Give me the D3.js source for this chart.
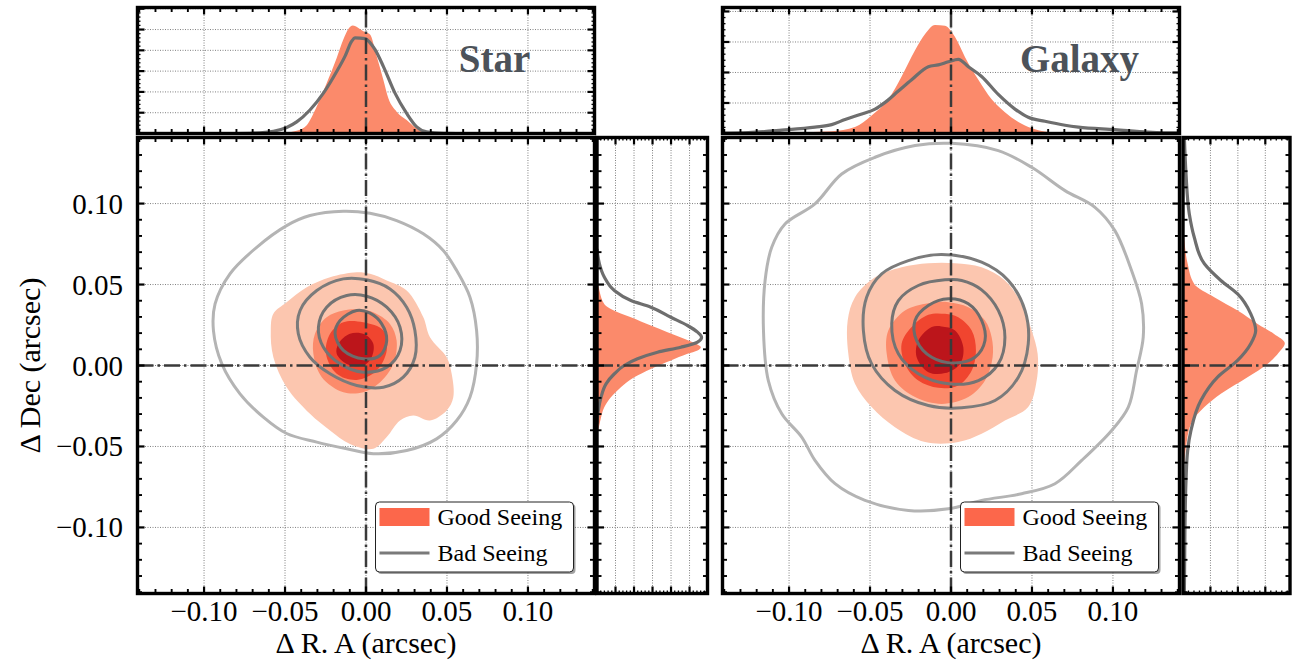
<!DOCTYPE html>
<html><head><meta charset="utf-8">
<script src="https://cdn.jsdelivr.net/npm/d3@7"></script>
<style>body{margin:0;background:#fff}svg{display:block}</style>
</head><body>
<svg id="c" width="1302" height="665"></svg>
<script>
// ================= DATA =================
const panelTitles = ["Star", "Galaxy"];
const seriesNames = ["Good Seeing", "Bad Seeing"];
const raTicks = [-0.10, -0.05, 0.00, 0.05, 0.10];
const decTicks = [-0.10, -0.05, 0.00, 0.05, 0.10];
const tickLabels = ["\u22120.10", "\u22120.05", "0.00", "0.05", "0.10"];
const xAxisLabel = "\u0394 R. A (arcsec)";
const yAxisLabel = "\u0394 Dec (arcsec)";

// Filled KDE contour outlines (Good Seeing), outer -> inner, [dRA, dDec]
const starGoodContours = [
  [[-0.0057,0.0576],[-0.0222,0.0545],[-0.0366,0.0483],[-0.0490,0.0390],[-0.0572,0.0319],[-0.0588,0.0216],[-0.0572,0.0051],[-0.0490,-0.0134],[-0.0346,-0.0298],[-0.0222,-0.0401],[-0.0099,-0.0484],[0.0045,-0.0514],[0.0128,-0.0442],[0.0210,-0.0340],[0.0292,-0.0309],[0.0395,-0.0340],[0.0498,-0.0278],[0.0539,-0.0196],[0.0529,-0.0051],[0.0498,0.0051],[0.0395,0.0175],[0.0354,0.0298],[0.0251,0.0463],[0.0128,0.0525],[0.0025,0.0566]],
  [[-0.0140,0.0340],[-0.0243,0.0298],[-0.0315,0.0196],[-0.0325,0.0072],[-0.0273,-0.0072],[-0.0140,-0.0165],[-0.0017,-0.0165],[0.0076,-0.0113],[0.0169,0.0010],[0.0189,0.0154],[0.0148,0.0257],[0.0045,0.0329],[-0.0037,0.0346]],
  [[-0.0140,0.0267],[-0.0222,0.0196],[-0.0247,0.0072],[-0.0181,-0.0051],[-0.0057,-0.0089],[0.0066,-0.0031],[0.0128,0.0093],[0.0107,0.0216],[-0.0017,0.0267]],
  [[-0.0099,0.0196],[-0.0170,0.0134],[-0.0181,0.0072],[-0.0119,0.0010],[-0.0017,0.0000],[0.0035,0.0051],[0.0045,0.0134],[-0.0006,0.0191]]
];
// Line KDE contours (Bad Seeing), outer -> inner
const starBadContours = [
  [[-0.0140,0.0953],[-0.0346,0.0926],[-0.0490,0.0864],[-0.0675,0.0730],[-0.0840,0.0566],[-0.0932,0.0380],[-0.0942,0.0216],[-0.0890,0.0010],[-0.0778,-0.0175],[-0.0634,-0.0319],[-0.0490,-0.0420],[-0.0304,-0.0473],[-0.0119,-0.0514],[0.0045,-0.0545],[0.0251,-0.0525],[0.0436,-0.0453],[0.0560,-0.0340],[0.0642,-0.0196],[0.0683,0.0010],[0.0683,0.0216],[0.0642,0.0422],[0.0560,0.0586],[0.0477,0.0710],[0.0354,0.0813],[0.0189,0.0895],[0.0025,0.0940]],
  [[-0.0140,0.0535],[-0.0304,0.0463],[-0.0407,0.0340],[-0.0418,0.0196],[-0.0346,0.0051],[-0.0222,-0.0051],[-0.0057,-0.0123],[0.0107,-0.0134],[0.0230,-0.0072],[0.0302,0.0051],[0.0302,0.0216],[0.0251,0.0360],[0.0148,0.0473],[0.0004,0.0529]],
  [[-0.0119,0.0432],[-0.0243,0.0360],[-0.0294,0.0236],[-0.0263,0.0113],[-0.0160,0.0010],[-0.0017,-0.0041],[0.0128,-0.0010],[0.0210,0.0093],[0.0210,0.0236],[0.0128,0.0360],[0.0004,0.0428]],
  [[-0.0057,0.0340],[-0.0160,0.0278],[-0.0191,0.0196],[-0.0140,0.0093],[-0.0017,0.0041],[0.0086,0.0062],[0.0128,0.0154],[0.0097,0.0257],[0.0025,0.0323]]
];
const galaxyGoodContours = [
  [[-0.0140,0.0632],[-0.0305,0.0607],[-0.0469,0.0545],[-0.0593,0.0422],[-0.0638,0.0278],[-0.0634,0.0072],[-0.0593,-0.0113],[-0.0490,-0.0257],[-0.0346,-0.0381],[-0.0160,-0.0473],[0.0045,-0.0473],[0.0189,-0.0422],[0.0333,-0.0340],[0.0477,-0.0257],[0.0529,-0.0093],[0.0535,0.0072],[0.0498,0.0216],[0.0436,0.0381],[0.0333,0.0525],[0.0189,0.0607],[0.0025,0.0632]],
  [[-0.0140,0.0385],[-0.0284,0.0340],[-0.0387,0.0216],[-0.0397,0.0072],[-0.0346,-0.0093],[-0.0222,-0.0195],[-0.0058,-0.0237],[0.0107,-0.0195],[0.0210,-0.0093],[0.0257,0.0051],[0.0251,0.0175],[0.0210,0.0278],[0.0107,0.0360],[-0.0016,0.0391]],
  [[-0.0140,0.0313],[-0.0243,0.0237],[-0.0305,0.0134],[-0.0284,0.0010],[-0.0202,-0.0093],[-0.0078,-0.0138],[0.0045,-0.0123],[0.0128,-0.0031],[0.0154,0.0093],[0.0128,0.0216],[0.0045,0.0298],[-0.0037,0.0319]],
  [[-0.0119,0.0237],[-0.0202,0.0154],[-0.0212,0.0051],[-0.0140,-0.0041],[-0.0037,-0.0047],[0.0056,0.0010],[0.0076,0.0113],[0.0025,0.0216],[-0.0058,0.0241]]
];
const galaxyBadContours = [
  [[0.0004,0.1372],[-0.0222,0.1358],[-0.0469,0.1286],[-0.0675,0.1183],[-0.0840,0.0998],[-0.1025,0.0874],[-0.1107,0.0730],[-0.1148,0.0525],[-0.1158,0.0216],[-0.1128,-0.0093],[-0.1045,-0.0298],[-0.0922,-0.0442],[-0.0840,-0.0586],[-0.0716,-0.0730],[-0.0531,-0.0833],[-0.0263,-0.0895],[-0.0016,-0.0885],[0.0189,-0.0833],[0.0436,-0.0792],[0.0642,-0.0730],[0.0807,-0.0586],[0.0992,-0.0401],[0.1095,-0.0257],[0.1146,-0.0031],[0.1187,0.0175],[0.1177,0.0381],[0.1115,0.0586],[0.1012,0.0833],[0.0889,0.0977],[0.0704,0.1080],[0.0498,0.1224],[0.0292,0.1327]],
  [[-0.0058,0.0685],[-0.0263,0.0648],[-0.0428,0.0566],[-0.0521,0.0422],[-0.0541,0.0216],[-0.0490,0.0010],[-0.0346,-0.0154],[-0.0140,-0.0247],[0.0066,-0.0261],[0.0272,-0.0216],[0.0416,-0.0072],[0.0477,0.0134],[0.0457,0.0340],[0.0354,0.0525],[0.0189,0.0638]],
  [[-0.0037,0.0529],[-0.0202,0.0494],[-0.0325,0.0401],[-0.0366,0.0257],[-0.0325,0.0072],[-0.0202,-0.0051],[-0.0016,-0.0113],[0.0169,-0.0093],[0.0292,0.0010],[0.0333,0.0175],[0.0292,0.0340],[0.0189,0.0467],[0.0066,0.0525]],
  [[-0.0016,0.0412],[-0.0140,0.0370],[-0.0222,0.0278],[-0.0212,0.0154],[-0.0119,0.0051],[0.0025,0.0016],[0.0148,0.0051],[0.0210,0.0154],[0.0189,0.0278],[0.0107,0.0381]]
];

// Marginal KDEs along R.A.: [dRA, density (grid units)]
const starGoodRA = [[-0.0600,0],[-0.0510,0.03],[-0.0428,0.13],[-0.0366,0.40],[-0.0305,1.29],[-0.0243,2.42],[-0.0181,3.63],[-0.0140,4.52],[-0.0109,5.03],[-0.0082,5.19],[-0.0047,5.08],[-0.0016,4.92],[0.0025,4.76],[0.0066,3.71],[0.0107,2.58],[0.0138,1.69],[0.0189,1.05],[0.0251,0.65],[0.0313,0.24],[0.0364,0.03],[0.0450,0]];
const starBadRA = [[-0.0800,0],[-0.0695,0.02],[-0.0572,0.11],[-0.0490,0.29],[-0.0428,0.56],[-0.0346,1.13],[-0.0263,1.94],[-0.0181,2.98],[-0.0130,3.71],[-0.0088,4.44],[-0.0068,4.60],[-0.0006,4.56],[0.0035,4.27],[0.0056,4.03],[0.0107,3.23],[0.0179,1.94],[0.0251,0.97],[0.0313,0.32],[0.0374,0.08],[0.0477,0.01],[0.0600,0]];
const galaxyGoodRA = [[-0.1200,0],[-0.1045,0.02],[-0.0737,0.07],[-0.0593,0.21],[-0.0490,0.59],[-0.0387,1.12],[-0.0305,1.87],[-0.0222,2.73],[-0.0160,3.26],[-0.0099,3.56],[-0.0037,3.53],[0.0025,3.16],[0.0086,2.51],[0.0169,1.76],[0.0251,1.12],[0.0333,0.70],[0.0436,0.32],[0.0519,0.14],[0.0601,0.05],[0.0807,0.01],[0.1000,0]];
const galaxyBadRA = [[-0.1411,0.01],[-0.1251,0.03],[-0.1045,0.11],[-0.0840,0.21],[-0.0737,0.29],[-0.0654,0.46],[-0.0551,0.64],[-0.0469,0.80],[-0.0407,1.02],[-0.0325,1.39],[-0.0243,1.76],[-0.0140,2.19],[-0.0078,2.25],[-0.0016,2.35],[0.0045,2.43],[0.0107,2.19],[0.0189,1.87],[0.0292,1.28],[0.0395,0.80],[0.0477,0.53],[0.0580,0.40],[0.0704,0.27],[0.0786,0.21],[0.1012,0.13],[0.1218,0.05],[0.1383,0.02],[0.1411,0.02]];

// Marginal KDEs along Dec: [dDec, density (grid units)]
const starGoodDec = [[0.0560,0],[0.0463,0.13],[0.0379,0.40],[0.0329,1.12],[0.0298,1.83],[0.0247,2.91],[0.0206,3.81],[0.0165,4.71],[0.0134,5.34],[0.0113,5.61],[0.0093,5.43],[0.0072,4.89],[0.0031,3.99],[-0.0021,2.91],[-0.0072,2.01],[-0.0134,1.29],[-0.0195,0.76],[-0.0257,0.40],[-0.0340,0.18],[-0.0440,0]];
const starBadDec = [[0.0720,0],[0.0628,0.13],[0.0545,0.40],[0.0463,0.94],[0.0401,1.83],[0.0360,2.91],[0.0298,3.99],[0.0247,4.89],[0.0206,5.43],[0.0175,5.65],[0.0144,5.43],[0.0113,4.53],[0.0082,3.27],[0.0041,2.19],[0.0000,1.47],[-0.0051,0.94],[-0.0113,0.49],[-0.0195,0.22],[-0.0278,0.07],[-0.0360,0]];
const galaxyGoodDec = [[0.0900,0],[0.0772,0.05],[0.0628,0.17],[0.0504,0.41],[0.0422,1.14],[0.0340,1.99],[0.0257,2.72],[0.0195,3.32],[0.0138,3.71],[0.0082,3.50],[0.0010,3.08],[-0.0072,2.35],[-0.0175,1.38],[-0.0257,0.78],[-0.0360,0.29],[-0.0504,0.11],[-0.0586,0.05],[-0.0700,0]];
const galaxyBadDec = [[0.1408,0.05],[0.1183,0.11],[0.0936,0.23],[0.0792,0.41],[0.0628,0.78],[0.0525,1.38],[0.0442,1.99],[0.0319,2.47],[0.0216,2.65],[0.0134,2.47],[0.0031,1.99],[-0.0072,1.26],[-0.0216,0.65],[-0.0401,0.29],[-0.0525,0.17],[-0.0710,0.11],[-0.1019,0.07],[-0.1408,0.05]];

// ================= STYLE / LAYOUT =================
const goodFills = ["#fcc6af", "#fc8b6b", "#f0452f", "#bc151b"];
const badStrokes = ["#b4b4b4", "#7b7b7b", "#747474", "#6c6c6c"];
const margFill = "#fb8a6b";
const margLine = "#6e6e6e";
const legendPatch = "#fc674b";
const legendLine = "#7a7a7a";
const zeroStroke = "#3a3a3a";
const gridStroke = "#808080";
const serif = "'Liberation Serif','DejaVu Serif',serif";
const XH = 0.1411, YH = 0.1408;

const panels = [
  {title: panelTitles[0], good: starGoodContours, bad: starBadContours,
   goodRA: starGoodRA, badRA: starBadRA, goodDec: starGoodDec, badDec: starBadDec,
   L: 137.5, R: 594.5, T: 137.5, B: 593.5,
   tm: {T: 7.5, B: 133.5, max: 6.06}, rm: {L: 597, R: 707.5, max: 5.97}, yLabels: true},
  {title: panelTitles[1], good: galaxyGoodContours, bad: galaxyBadContours,
   goodRA: galaxyGoodRA, badRA: galaxyBadRA, goodDec: galaxyGoodDec, badDec: galaxyBadDec,
   L: 722.5, R: 1179.5, T: 137.5, B: 593.5,
   tm: {T: 7.5, B: 133.5, max: 4.13}, rm: {L: 1183, R: 1290, max: 3.9}, yLabels: false}
];

const svg = d3.select("#c");
const defs = svg.append("defs");
const minorVals = d3.range(-14, 15).map(i => ({v: i / 100, major: i % 5 === 0}));

function densTicks(max) {
  return d3.range(0, Math.floor(max * 5 + 1e-6) + 1).map(i => ({v: i / 5, major: i % 5 === 0}));
}

function drawTicks(g, vals, scale, side, x0, x1, y0, y1, small) {
  vals.forEach(t => {
    const len = t.major ? 7 : (small ? 3 : 4.5);
    const w = t.major ? 2.2 : (small ? 1.3 : 1.9);
    if (side === 'h') {
      const x = scale(t.v);
      if (x < x0 + 1 || x > x1 - 1) return;
      g.append("line").attr("x1", x).attr("x2", x).attr("y1", y0).attr("y2", y0 + len).attr("stroke", "#000").attr("stroke-width", w);
      g.append("line").attr("x1", x).attr("x2", x).attr("y1", y1).attr("y2", y1 - len).attr("stroke", "#000").attr("stroke-width", w);
    } else {
      const y = scale(t.v);
      if (y < y0 + 1 || y > y1 - 1) return;
      g.append("line").attr("y1", y).attr("y2", y).attr("x1", x0).attr("x2", x0 + len).attr("stroke", "#000").attr("stroke-width", w);
      g.append("line").attr("y1", y).attr("y2", y).attr("x1", x1).attr("x2", x1 - len).attr("stroke", "#000").attr("stroke-width", w);
    }
  });
}

function clip(id, x0, y0, x1, y1) {
  defs.append("clipPath").attr("id", id).append("rect").attr("x", x0).attr("y", y0).attr("width", x1 - x0).attr("height", y1 - y0);
  return "url(#" + id + ")";
}

function frame(g, x0, y0, x1, y1) {
  g.append("rect").attr("x", x0).attr("y", y0).attr("width", x1 - x0).attr("height", y1 - y0)
    .attr("fill", "none").attr("stroke", "#000").attr("stroke-width", 3.4);
}

function hGrid(g, vals, sy, x0, x1) {
  vals.forEach(v => g.append("line").attr("x1", x0).attr("x2", x1).attr("y1", sy(v)).attr("y2", sy(v))
    .attr("stroke", gridStroke).attr("stroke-width", 1).attr("stroke-dasharray", "1,1.5"));
}
function vGrid(g, vals, sx, y0, y1) {
  vals.forEach(v => g.append("line").attr("y1", y0).attr("y2", y1).attr("x1", sx(v)).attr("x2", sx(v))
    .attr("stroke", gridStroke).attr("stroke-width", 1).attr("stroke-dasharray", "1,1.5"));
}

function zeroLine(g, x1, y1, x2, y2) {
  g.append("line").attr("x1", x1).attr("y1", y1).attr("x2", x2).attr("y2", y2)
    .attr("stroke", zeroStroke).attr("stroke-width", 2.5).attr("stroke-dasharray", "16,4,2.5,4");
}

panels.forEach((p, pi) => {
  const x = d3.scaleLinear().domain([-XH, XH]).range([p.L, p.R]);
  const y = d3.scaleLinear().domain([-YH, YH]).range([p.B, p.T]);
  const g = svg.append("g");

  // ---------- main joint axes ----------
  const main = g.append("g").attr("clip-path", clip("cm" + pi, p.L, p.T, p.R, p.B));
  vGrid(main, raTicks, x, p.T, p.B);
  hGrid(main, decTicks, y, p.L, p.R);
  const shape = d3.line().x(d => x(d[0])).y(d => y(d[1])).curve(d3.curveCatmullRomClosed.alpha(0.5));
  p.good.forEach((c, i) => main.append("path").attr("d", shape(c)).attr("fill", goodFills[i]));
  p.bad.forEach((c, i) => main.append("path").attr("d", shape(c)).attr("fill", "none")
    .attr("stroke", badStrokes[i]).attr("stroke-width", 3));
  zeroLine(main, x(0), p.B, x(0), p.T);
  zeroLine(main, p.L, y(0), p.R, y(0));
  drawTicks(g, minorVals, x, 'h', p.L, p.R, p.T, p.B);
  drawTicks(g, minorVals, y, 'v', p.L, p.R, p.T, p.B);
  frame(g, p.L, p.T, p.R, p.B);

  // tick labels
  raTicks.forEach((v, i) => g.append("text").attr("x", x(v)).attr("y", 621).attr("text-anchor", "middle")
    .attr("font-family", serif).attr("font-size", 29).text(tickLabels[i]));
  if (p.yLabels) {
    decTicks.forEach((v, i) => g.append("text").attr("x", 123).attr("y", y(v) + 10).attr("text-anchor", "end")
      .attr("font-family", serif).attr("font-size", 29).text(tickLabels[i]));
    g.append("text").attr("transform", `translate(40,${y(0)}) rotate(-90)`).attr("text-anchor", "middle")
      .attr("font-family", serif).attr("font-size", 30).text(yAxisLabel);
  }
  g.append("text").attr("x", x(0)).attr("y", 653).attr("text-anchor", "middle")
    .attr("font-family", serif).attr("font-size", 30).text(xAxisLabel);

  // ---------- top marginal ----------
  const ty = d3.scaleLinear().domain([0, p.tm.max]).range([p.tm.B, p.tm.T]);
  const top = g.append("g").attr("clip-path", clip("ct" + pi, p.L, p.tm.T, p.R, p.tm.B));
  vGrid(top, raTicks, x, p.tm.T, p.tm.B);
  hGrid(top, d3.range(1, Math.floor(p.tm.max) + 1), ty, p.L, p.R);
  top.append("path").attr("d", d3.area().x(d => x(d[0])).y0(ty(0)).y1(d => ty(d[1])).curve(d3.curveMonotoneX)(p.goodRA))
    .attr("fill", margFill);
  top.append("path").attr("d", d3.line().x(d => x(d[0])).y(d => ty(d[1])).curve(d3.curveMonotoneX)(p.badRA))
    .attr("fill", "none").attr("stroke", margLine).attr("stroke-width", 3.2);
  zeroLine(top, x(0), p.tm.B, x(0), p.tm.T);
  drawTicks(g, minorVals, x, 'h', p.L, p.R, p.tm.T, p.tm.B);
  drawTicks(g, densTicks(p.tm.max), ty, 'v', p.L, p.R, p.tm.T, p.tm.B, true);
  frame(g, p.L, p.tm.T, p.R, p.tm.B);
  g.append("text").attr("x", p.L + 357).attr("y", 72).attr("text-anchor", "middle")
    .attr("font-family", serif).attr("font-weight", "bold").attr("font-size", 39).attr("fill", "#4c5259").text(p.title);

  // ---------- right marginal ----------
  const rx = d3.scaleLinear().domain([0, p.rm.max]).range([p.rm.L, p.rm.R]);
  const rg = g.append("g").attr("clip-path", clip("cr" + pi, p.rm.L, p.T, p.rm.R, p.B));
  hGrid(rg, decTicks, y, p.rm.L, p.rm.R);
  vGrid(rg, d3.range(1, Math.floor(p.rm.max) + 1), rx, p.T, p.B);
  rg.append("path").attr("d", d3.area().y(d => y(d[0])).x0(rx(0)).x1(d => rx(d[1])).curve(d3.curveMonotoneY)(p.goodDec.slice().reverse()))
    .attr("fill", margFill);
  rg.append("path").attr("d", d3.line().y(d => y(d[0])).x(d => rx(d[1])).curve(d3.curveMonotoneY)(p.badDec.slice().reverse()))
    .attr("fill", "none").attr("stroke", margLine).attr("stroke-width", 3.2);
  zeroLine(rg, p.rm.L, y(0), p.rm.R, y(0));
  drawTicks(g, minorVals, y, 'v', p.rm.L, p.rm.R, p.T, p.B);
  drawTicks(g, densTicks(p.rm.max), rx, 'h', p.rm.L, p.rm.R, p.T, p.B, true);
  frame(g, p.rm.L, p.T, p.rm.R, p.B);

  // ---------- legend ----------
  const lw = 198, lh = 70;
  const lg = g.append("g").attr("transform", `translate(${p.R - 21 - lw},502)`);
  lg.append("rect").attr("x", 2).attr("y", 2).attr("width", lw).attr("height", lh).attr("rx", 4)
    .attr("fill", "#555").attr("opacity", 0.55);
  lg.append("rect").attr("x", 0).attr("y", 0).attr("width", lw).attr("height", lh).attr("rx", 4)
    .attr("fill", "#fff").attr("stroke", "#222").attr("stroke-width", 1);
  lg.append("rect").attr("x", 4).attr("y", 6).attr("width", 50).attr("height", 18).attr("fill", legendPatch);
  lg.append("line").attr("x1", 4).attr("x2", 54).attr("y1", 51).attr("y2", 51).attr("stroke", legendLine).attr("stroke-width", 3.2);
  lg.append("text").attr("x", 62).attr("y", 23).attr("font-family", serif).attr("font-size", 24).text(seriesNames[0]);
  lg.append("text").attr("x", 62).attr("y", 59).attr("font-family", serif).attr("font-size", 24).text(seriesNames[1]);
});
</script>
</body></html>
